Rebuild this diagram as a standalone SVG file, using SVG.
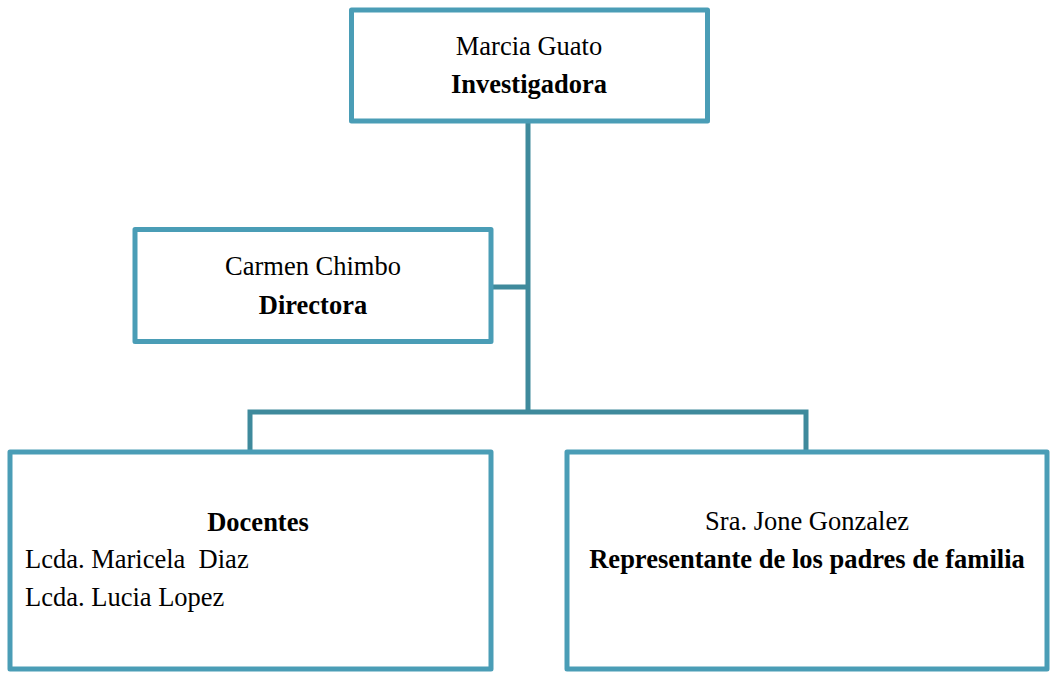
<svg xmlns="http://www.w3.org/2000/svg" width="1054" height="675" viewBox="0 0 1054 675">
<style>
.box{fill:#fff;stroke:#4a9db6;stroke-width:5;stroke-linejoin:round}
.con{fill:none;stroke:#3f8a9c;stroke-width:5;stroke-linejoin:miter}
text{font-family:"Liberation Serif","Times New Roman",serif;font-size:26.5px;fill:#000}
.c{text-anchor:middle}
.b{font-weight:bold}
</style>
<rect width="1054" height="675" fill="#fff"/>
<g id="connectors">
<polyline class="con" points="528,121 528,412"/>
<polyline class="con" points="491,287 528,287"/>
<polyline class="con" points="250,452 250,412 806,412 806,452"/>
</g>
<g id="investigadora">
<rect class="box" x="351.5" y="10" width="356" height="111"/>
<text class="c" x="529" y="55">Marcia Guato</text>
<text class="c b" x="529" y="93">Investigadora</text>
</g>
<g id="directora">
<rect class="box" x="135" y="229.5" width="356" height="112"/>
<text class="c" x="313" y="275">Carmen Chimbo</text>
<text class="c b" x="313" y="314">Directora</text>
</g>
<g id="docentes">
<rect class="box" x="10" y="452" width="481" height="217"/>
<text class="c b" x="258" y="531">Docentes</text>
<text x="25" y="568" xml:space="preserve">Lcda. Maricela  Diaz</text>
<text x="25" y="606">Lcda. Lucia Lopez</text>
</g>
<g id="representante">
<rect class="box" x="567" y="452" width="480" height="217"/>
<text class="c" x="807" y="530">Sra. Jone Gonzalez</text>
<text class="c b" x="807" y="568">Representante de los padres de familia</text>
</g>
</svg>
